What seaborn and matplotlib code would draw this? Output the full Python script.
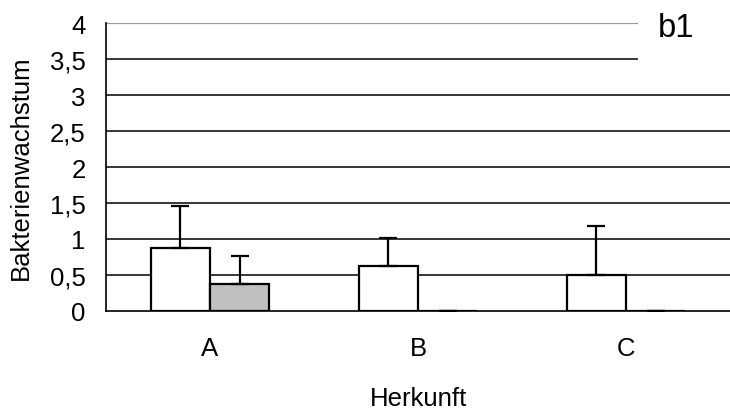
import numpy as np
import pandas as pd
import matplotlib
matplotlib.use("Agg")
import matplotlib.pyplot as plt
import seaborn as sns
from matplotlib.patches import Rectangle

# Werte
herkunft = ["A", "B", "C"]
gruppen = ["1", "2"]
werte_1 = [0.88, 0.63, 0.50]
werte_2 = [0.38, 0.00, 0.00]
fehler_1 = [0.58, 0.39, 0.68]
fehler_2 = [0.39, 0.00, 0.00]
y_ticks = [0, 0.5, 1, 1.5, 2, 2.5, 3, 3.5, 4]
y_labels = ["0", "0,5", "1", "1,5", "2", "2,5", "3", "3,5", "4"]

sns.set_style("white")
plt.rcParams['font.family'] = ['Liberation Sans', 'DejaVu Sans']
plt.rcParams['font.size'] = 18.5
plt.rcParams['text.color'] = 'black'
plt.rcParams['axes.labelcolor'] = 'black'
plt.rcParams['xtick.color'] = 'black'
plt.rcParams['ytick.color'] = 'black'

df = pd.DataFrame({
    "Herkunft": herkunft * 2,
    "Gruppe": [gruppen[0]] * 3 + [gruppen[1]] * 3,
    "Wert": werte_1 + werte_2,
    "Fehler": fehler_1 + fehler_2,
})

fig = plt.figure(figsize=(7.3, 4.1), dpi=100)
ax = fig.add_axes([106 / 730, 1 - 312 / 410, 1 - 106 / 730, 288 / 410])

sns.barplot(data=df, x="Herkunft", y="Wert", hue="Gruppe", order=herkunft,
            hue_order=gruppen, palette=["white", "#c0c0c0"], edgecolor="black",
            linewidth=1.6, width=0.57, errorbar=None, legend=False, ax=ax, zorder=3)

# Fehlerbalken nur nach oben
bars = ax.patches
for bar, (_, row) in zip(bars, df.iterrows()):
    xc = bar.get_x() + bar.get_width() / 2
    ax.errorbar(xc, row["Wert"], yerr=[[0], [row["Fehler"]]], fmt="none",
                ecolor="black", elinewidth=1.6, capsize=6.5, capthick=1.6, zorder=4)

# Gitternetzlinien (oberste grau)
for t in y_ticks[1:]:
    col = "#999999" if t == y_ticks[-1] else "black"
    lw = 1.6 if t == y_ticks[-1] else 1.1
    ax.axhline(t, color=col, linewidth=lw, zorder=1)

ax.set_ylim(0, 4)
ax.set_xlim(-0.5, 2.5)
ax.set_yticks(y_ticks)
ax.set_yticklabels(y_labels)
ax.set_xticks([-0.5, 0.5, 1.5, 2.5])
ax.set_xticklabels([])
ax.set_xticks([0, 1, 2], minor=True)
ax.set_xticklabels(herkunft, minor=True)
ax.tick_params(axis="x", which="major", direction="out", length=6, width=1, color="black")
ax.tick_params(axis="x", which="minor", length=0, pad=18)
ax.tick_params(axis="y", direction="out", length=6.5, width=1, color="black", pad=8)

for s in ["top", "right"]:
    ax.spines[s].set_visible(False)
for s in ["left", "bottom"]:
    ax.spines[s].set_color("black")
    ax.spines[s].set_linewidth(1.2)

ax.set_xlabel("Herkunft", labelpad=19)
ax.set_ylabel("Bakterienwachstum", labelpad=12)

# Kennzeichnung oben rechts
ax.add_patch(Rectangle((0.853, 0.85), 0.2, 0.2, transform=ax.transAxes,
                       facecolor="white", edgecolor="none", clip_on=False, zorder=5))
ax.text(0.913, 0.955, "b1", transform=ax.transAxes, ha="center", va="baseline",
        fontsize=23.5, zorder=6)

fig.savefig("out.png", dpi=100)
